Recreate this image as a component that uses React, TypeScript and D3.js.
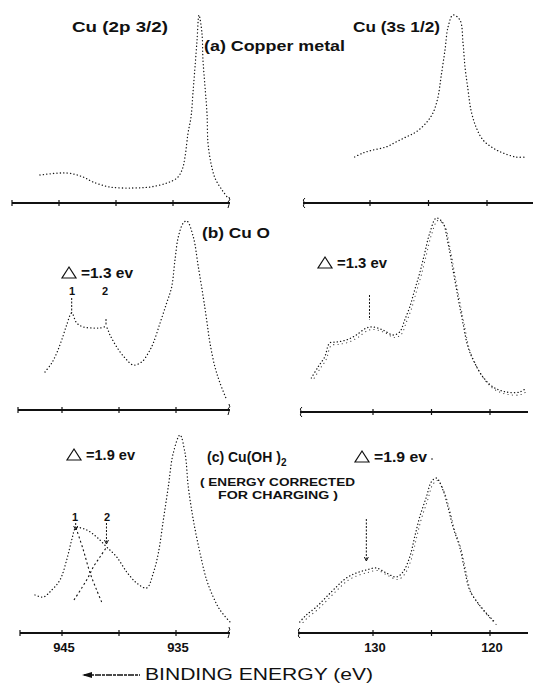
import React from "react";
import * as d3 from "d3";

// ---- tick values ----
const leftTicks = [945, 940, 935];
const rightTicks = [130, 125, 120];
const leftTickLabels = [945, 935];
const rightTickLabels = [130, 120];

// ---- (a) Copper metal ----
const metal2pE = [946.67, 944.3, 942.89, 942.02, 940.53, 938.51, 937.02, 935.53, 934.65, 934.21, 933.95, 933.68, 933.42, 933.25, 933.07, 932.89, 932.72, 932.46, 932.37, 932.19, 932.02, 931.93, 931.67, 931.32, 930.7, 930.18];
const metal2pI = [28, 30, 26, 21, 16, 15, 16, 20, 25, 33, 46, 70, 86, 110, 136, 163, 188, 170, 143, 116, 90, 60, 40, 25, 13, 5];
const metal3sE = [131.31, 130.6, 129.74, 128.63, 127.78, 126.92, 126.07, 125.21, 124.62, 124.19, 123.93, 123.59, 123.33, 122.91, 122.31, 122.05, 121.88, 121.62, 121.37, 120.94, 120.34, 119.49, 118.63, 117.52, 116.58];
const metal3sI = [46, 50, 53, 56, 61, 66, 71, 80, 90, 106, 126, 153, 176, 188, 183, 160, 136, 113, 93, 76, 63, 55, 50, 46, 46];

// ---- (b) CuO ----
const cuo2pE = [946.49, 945.9, 945.46, 945.03, 944.59, 944.15, 943.71, 943.13, 942.25, 941.67, 941.14, 940.79, 940.2, 939.47, 938.75, 938.01, 937.43, 936.99, 936.4, 935.82, 935.38, 935.09, 934.8, 934.36, 934.04, 933.48, 933.04, 932.61, 932.31, 932.02, 931.58, 931.14, 930.55];
const cuo2pI = [38, 47, 57, 70, 85, 97, 87, 83, 82, 82, 83, 75, 63, 52, 45, 48, 57, 67, 87, 107, 123, 150, 173, 187, 189, 173, 143, 113, 90, 67, 43, 27, 10];
const cuo3sE = [135.27, 134.7, 134.13, 133.7, 133.14, 132.28, 131.43, 130.57, 130.0, 129.15, 128.29, 127.72, 127.29, 126.86, 126.44, 126.01, 125.58, 125.15, 124.59, 124.02, 123.59, 123.16, 122.74, 122.31, 121.88, 121.31, 120.6, 119.74, 118.61, 117.46, 116.9];
const cuo3sI = [34, 45, 55, 69, 70, 72, 77, 84, 85, 82, 77, 80, 92, 105, 122, 139, 159, 179, 194, 189, 169, 142, 115, 89, 65, 49, 35, 25, 20, 20, 24];

// ---- (c) Cu(OH)2 ----
const hyd2pE = [947.37, 946.64, 945.9, 945.18, 944.59, 944.15, 943.77, 942.83, 941.96, 941.08, 940.2, 939.32, 938.45, 937.57, 936.99, 936.55, 936.11, 935.68, 935.24, 934.65, 934.21, 933.92, 933.48, 932.89, 932.31, 931.73, 931.14, 930.26];
const hyd2pI = [38, 36, 43, 53, 73, 93, 105, 103, 96, 86, 76, 61, 50, 45, 60, 80, 113, 146, 180, 198, 180, 146, 113, 80, 53, 36, 23, 11];
const comp1E = [943.77, 943.13, 942.54, 941.96, 941.52];
const comp1I = [105, 83, 60, 43, 31];
const comp2E = [943.95, 943.27, 942.69, 942.25, 941.67, 941.08];
const comp2I = [33, 45, 56, 66, 76, 86];
const hyd3sE = [136.26, 135.7, 134.85, 133.99, 133.14, 132.28, 131.43, 130.57, 129.72, 128.86, 128.01, 127.44, 126.86, 126.44, 126.01, 125.44, 125.02, 124.59, 124.02, 123.59, 123.16, 122.59, 122.16, 121.74, 121.03, 120.32, 119.6];
const hyd3sI = [11, 18, 26, 36, 46, 55, 60, 63, 65, 60, 56, 61, 76, 96, 116, 136, 151, 155, 143, 126, 106, 86, 63, 43, 30, 20, 11];

const FONT = "'Liberation Sans', Arial, Helvetica, sans-serif";
const INK = "#111";

type Panel = {
  side: "L" | "R";
  axisY: number;
  dx: number;
  x0: number;
  x1: number;
  E: number[];
  I: number[];
  labels: boolean;
  extra?: { E: number[]; I: number[] }[];
  band?: boolean;
};

const panels: Panel[] = [
  { side: "L", axisY: 203, dx: -3, x0: 12, x1: 230, E: metal2pE, I: metal2pI, labels: false },
  { side: "R", axisY: 203, dx: -3, x0: 303, x1: 533, E: metal3sE, I: metal3sI, labels: false },
  { side: "L", axisY: 410, dx: 0, x0: 18, x1: 230, E: cuo2pE, I: cuo2pI, labels: false },
  { side: "R", axisY: 412, dx: 0, x0: 300, x1: 528, E: cuo3sE, I: cuo3sI, labels: false, band: true },
  {
    side: "L", axisY: 633, dx: 0, x0: 20, x1: 230, E: hyd2pE, I: hyd2pI, labels: true,
    extra: [{ E: comp1E, I: comp1I }, { E: comp2E, I: comp2I }],
  },
  { side: "R", axisY: 633, dx: 0, x0: 298, x1: 528, E: hyd3sE, I: hyd3sI, labels: true, band: true },
];

function xScale(side: "L" | "R", dx: number) {
  return side === "L"
    ? d3.scaleLinear().domain([945, 935]).range([62 + dx, 176 + dx])
    : d3.scaleLinear().domain([130, 120]).range([373 + dx, 490 + dx]);
}
function yScale(axisY: number) {
  return d3.scaleLinear().domain([0, 200]).range([axisY, axisY - 200]);
}

function PanelView({ p }: { p: Panel }) {
  const xs = xScale(p.side, p.dx);
  const ys = yScale(p.axisY);
  const line = d3
    .line<[number, number]>()
    .x((d) => xs(d[0]))
    .y((d) => ys(d[1]))
    .curve(d3.curveCatmullRom.alpha(0.5));
  const pts = p.E.map((e, i) => [e, p.I[i]] as [number, number]);
  const ticks = p.side === "L" ? leftTicks : rightTicks;
  const labels = p.side === "L" ? leftTickLabels : rightTickLabels;
  const y = p.axisY;
  const leftCurly = `M${p.x0 + 2},${y - 5} q-3,2 -1,4 q-2,1 0,2 q-2,2 1,4`;
  const rightCurly = `M${p.x1 - 1},${y - 6} q2,3 -1,5 q2,2 0,6`;
  return (
    <g>
      <line x1={p.x0} x2={p.x1} y1={y} y2={y} stroke={INK} strokeWidth={2} />
      {p.side === "L" ? (
        <>
          <line x1={p.x0} x2={p.x0} y1={y - 3} y2={y + 3} stroke={INK} strokeWidth={1.2} />
          <path d={rightCurly} fill="none" stroke={INK} strokeWidth={1} />
        </>
      ) : (
        <path d={leftCurly} fill="none" stroke={INK} strokeWidth={1} />
      )}
      {ticks.map((t) => (
        <line key={t} x1={xs(t)} x2={xs(t)} y1={y - 3} y2={y + 3} stroke={INK} strokeWidth={1.2} />
      ))}
      {p.labels &&
        labels.map((t) => (
          <text
            key={t}
            x={xs(t) + 2}
            y={y + 19}
            textAnchor="middle"
            fontFamily={FONT}
            fontWeight="bold"
            fontSize={13}
            fill={INK}
          >
            {t}
          </text>
        ))}
      <path
        d={line(pts) || ""}
        fill="none"
        stroke={INK}
        strokeWidth={1.3}
        strokeLinecap="round"
        strokeDasharray="0.2 3.2"
      />
      {p.band && (
        <path
          d={line(pts) || ""}
          transform="translate(1.5,2.5)"
          fill="none"
          stroke={INK}
          strokeWidth={1.1}
          strokeLinecap="round"
          strokeDasharray="0.2 4.2"
          strokeDashoffset={1.6}
          opacity={0.8}
        />
      )}
      {p.extra &&
        p.extra.map((c, k) => (
          <path
            key={k}
            d={line(c.E.map((e, i) => [e, c.I[i]] as [number, number])) || ""}
            fill="none"
            stroke={INK}
            strokeWidth={1.1}
            strokeDasharray="2 2.5"
          />
        ))}
    </g>
  );
}

function Txt(props: { x: number; y: number; size: number; children: React.ReactNode; len?: number; weight?: string }) {
  return (
    <text
      x={props.x}
      y={props.y}
      fontFamily={FONT}
      fontWeight={props.weight || "bold"}
      fontSize={props.size}
      fill={INK}
      textLength={props.len}
      lengthAdjust={props.len ? "spacingAndGlyphs" : undefined}
    >
      {props.children}
    </text>
  );
}

function Delta({ x, y, label, len }: { x: number; y: number; label: string; len: number }) {
  return (
    <g>
      <path
        d={`M${x + 7},${y - 11} L${x + 14},${y} L${x},${y} Z`}
        fill="none"
        stroke={INK}
        strokeWidth={1.2}
      />
      <text x={x + 19} y={y} fontFamily={FONT} fontWeight="bold" fontSize={14} fill={INK} textLength={len} lengthAdjust="spacingAndGlyphs">
        {label}
      </text>
    </g>
  );
}

function VMark({ x, y1, y2, arrow }: { x: number; y1: number; y2: number; arrow?: boolean }) {
  return (
    <g>
      <line x1={x} x2={x} y1={y1} y2={y2} stroke={INK} strokeWidth={1} strokeDasharray="2 1.5" />
      {arrow && <path d={`M${x - 2},${y2 - 4} L${x},${y2} L${x + 2},${y2 - 4}`} fill="none" stroke={INK} strokeWidth={1} />}
    </g>
  );
}

export default function App() {
  const W = 533;
  const H = 685;
  const xL = xScale("L", 0);
  const xR = xScale("R", 0);
  return (
    <svg
      width={W}
      height={H}
      style={{ position: "absolute", left: 0, top: 0, background: "#fff" }}
    >
      <rect x={0} y={0} width={W} height={H} fill="#fff" />
      {panels.map((p, i) => (
        <PanelView key={i} p={p} />
      ))}

      {/* titles */}
      <Txt x={72} y={32} size={15} len={96}>Cu (2p 3/2)</Txt>
      <Txt x={204} y={51} size={14} len={141}>(a)  Copper metal</Txt>
      <Txt x={353} y={32} size={15} len={87}>Cu (3s 1/2)</Txt>

      <Txt x={202} y={238} size={14} len={68}>(b)  Cu O</Txt>
      <Delta x={62} y={278} label="=1.3 ev" len={52} />
      <Txt x={69} y={295} size={11}>1</Txt>
      <Txt x={102} y={295} size={11}>2</Txt>
      <VMark x={xL(944.15)} y1={298} y2={313} />
      <VMark x={xL(941.14)} y1={319} y2={326} />
      <Delta x={318} y={268} label="=1.3 ev" len={50} />
      <VMark x={xR(130.3)} y1={295} y2={320} />

      <Delta x={67} y={460} label="=1.9 ev" len={49} />
      <text x={207} y={462} fontFamily={FONT} fontWeight="bold" fontSize={14} fill={INK}>
        (c)  Cu(OH )<tspan dy={4} fontSize={10}>2</tspan>
      </text>
      <Txt x={200} y={486} size={10} len={155}>( ENERGY CORRECTED</Txt>
      <Txt x={218} y={499} size={10} len={120}>FOR CHARGING )</Txt>
      <Delta x={355} y={462} label="=1.9 ev" len={53} />
      <circle cx={432} cy={459} r={0.8} fill={INK} />
      <Txt x={72} y={521} size={11}>1</Txt>
      <Txt x={104} y={521} size={11}>2</Txt>
      <VMark x={xL(943.8)} y1={523} y2={530} arrow />
      <VMark x={xL(941.1)} y1={523} y2={544} arrow />
      <VMark x={xR(130.57)} y1={519} y2={561} arrow />

      {/* x-axis title */}
      <line x1={84} x2={140} y1={675} y2={675} stroke={INK} strokeWidth={1.3} strokeDasharray="6 1 3 1" />
      <path d="M82,675 L92,672 L92,678 Z" fill={INK} />
      <Txt x={145} y={680} size={16} len={228} weight="normal">BINDING ENERGY  (eV)</Txt>
    </svg>
  );
}
